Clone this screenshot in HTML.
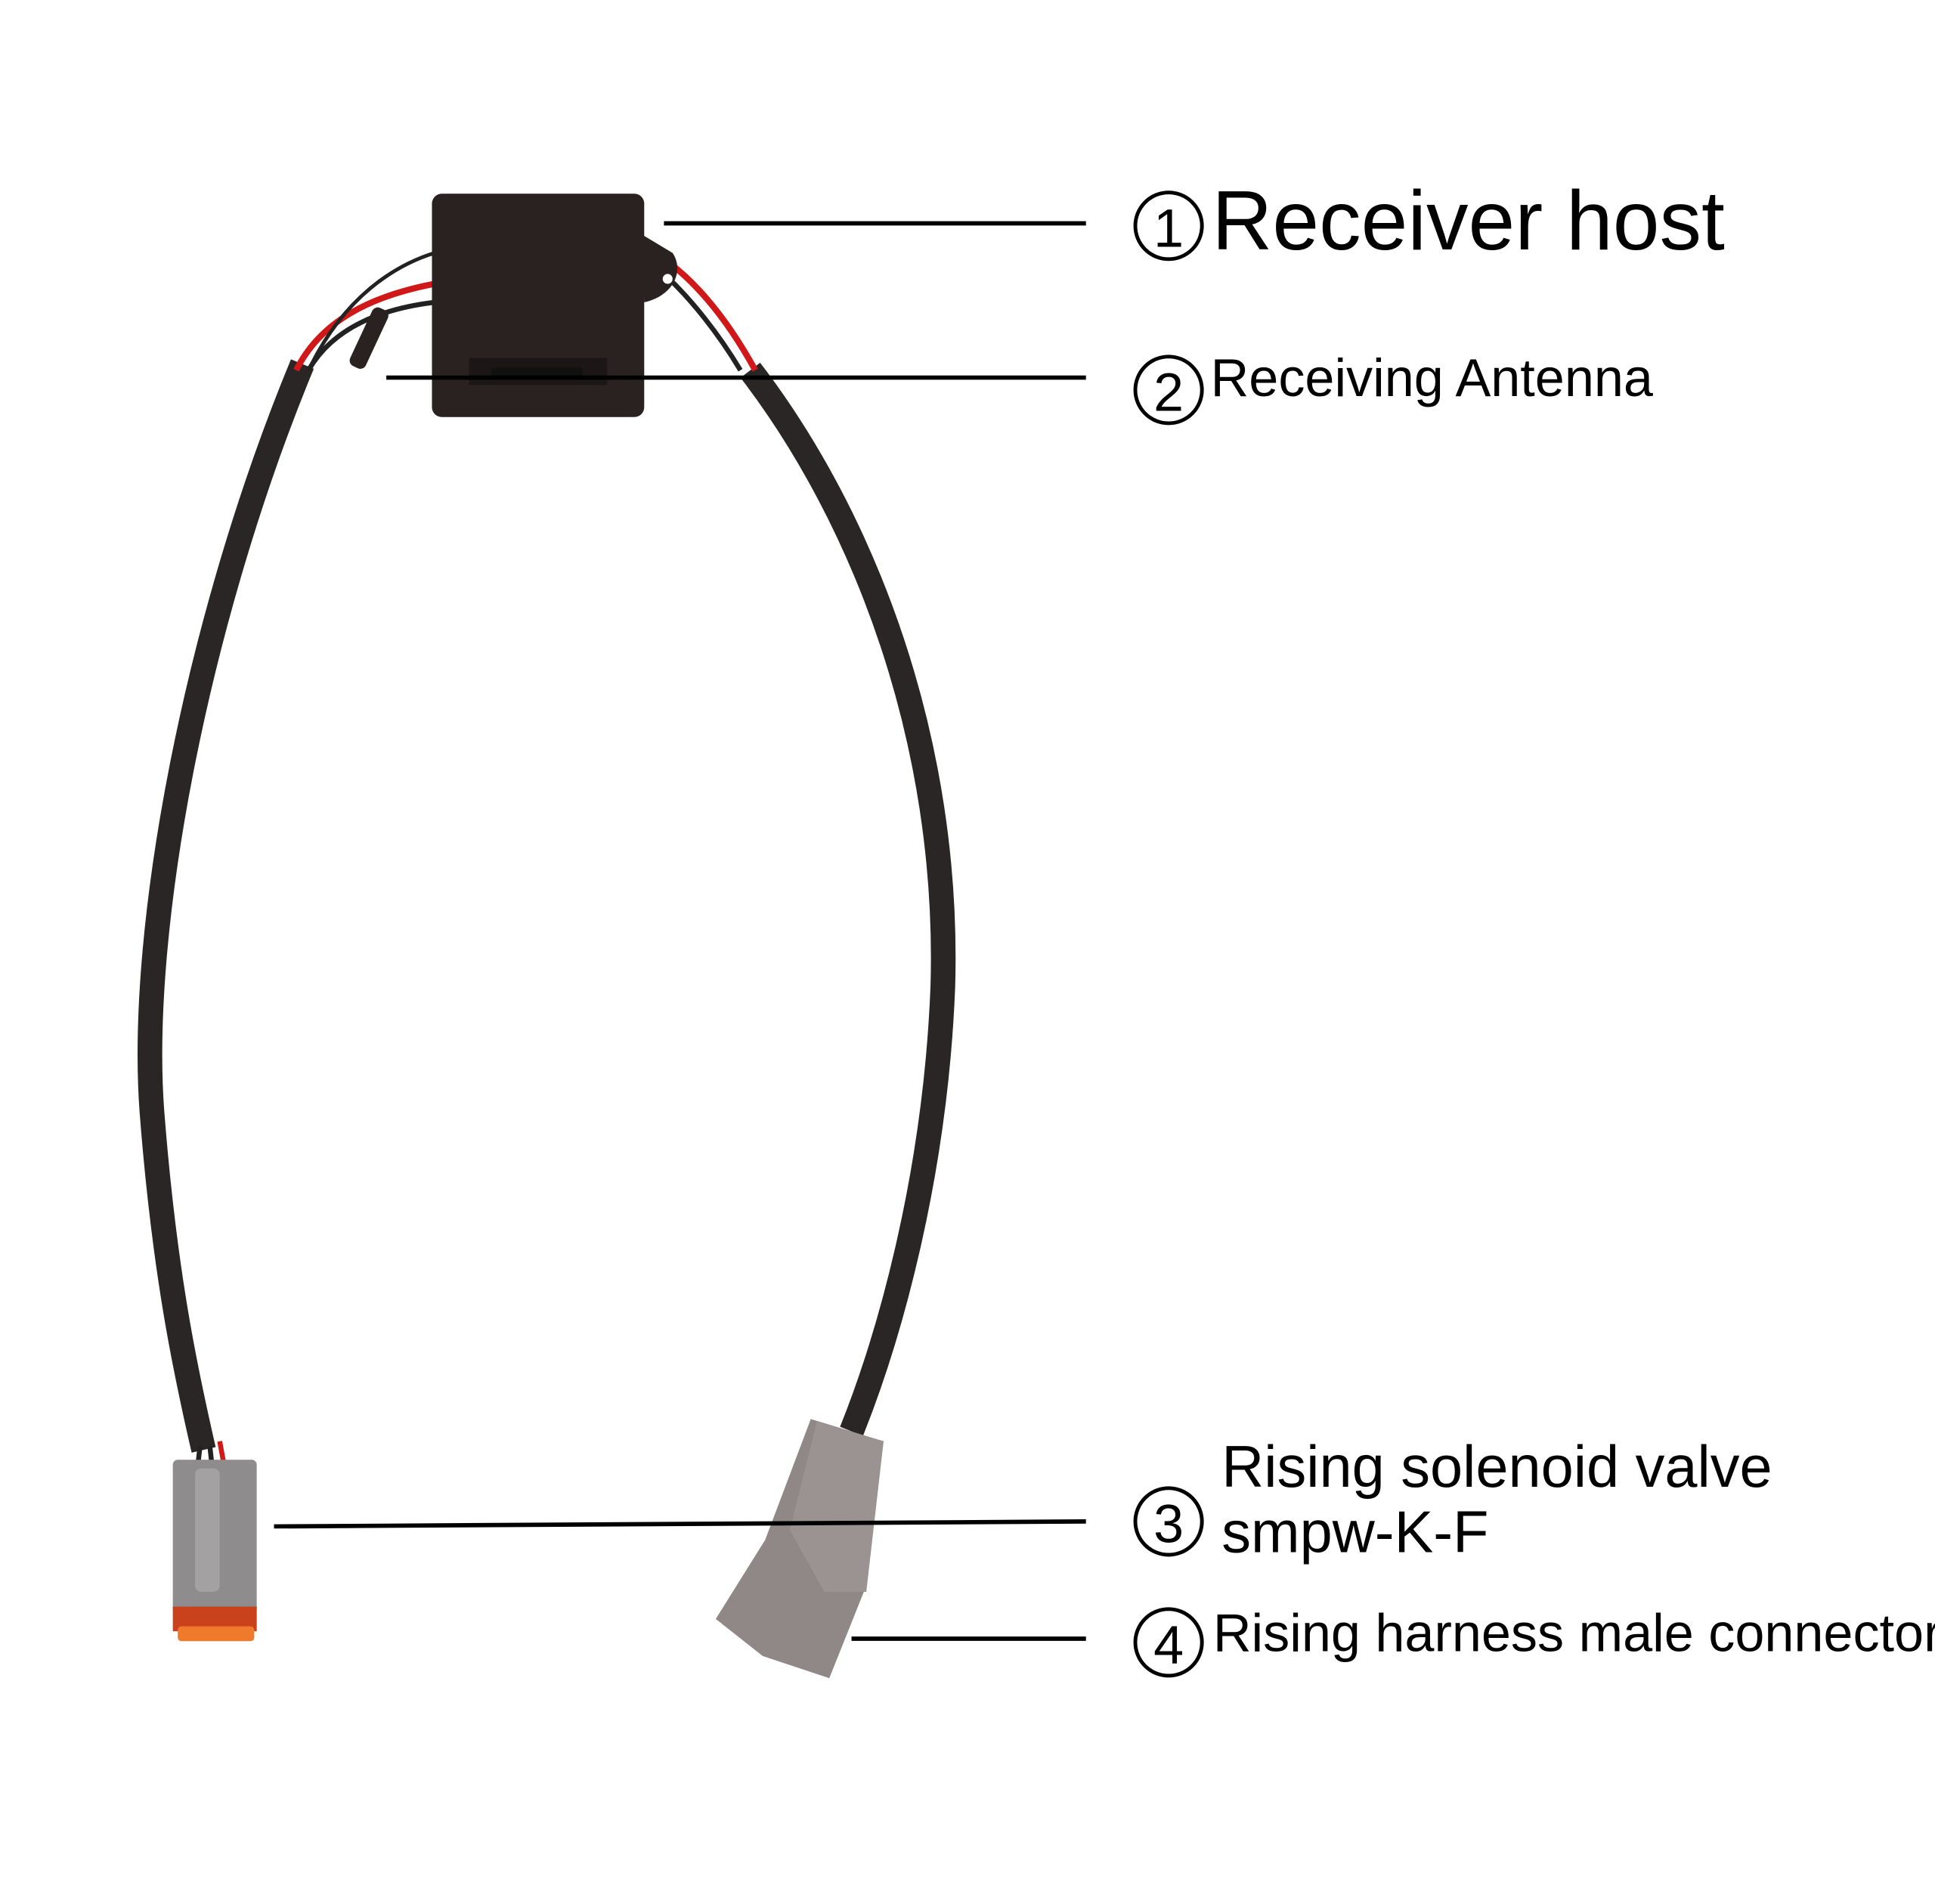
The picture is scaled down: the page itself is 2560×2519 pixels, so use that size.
<!DOCTYPE html>
<html><head><style>
html,body{margin:0;padding:0;background:#fff;}
svg{display:block;}
text{font-family:"Liberation Sans","Noto Sans CJK SC",sans-serif;fill:#000;}
</style></head><body>
<svg width="2560" height="2519" viewBox="0 0 1568 1543" xmlns="http://www.w3.org/2000/svg">
<rect width="1568" height="1543" fill="#fff"/>
<!-- cables -->
<path d="M245,295 C160,500 112,750 123,900 C133,1030 150,1110 165,1175" fill="none" stroke="#2b2626" stroke-width="20"/>
<path d="M608,300 C700,420 770,600 764,800 C758,950 722,1080 690,1160" fill="none" stroke="#2b2626" stroke-width="20"/>
<!-- wires near box -->
<path d="M240,300 C260,260 300,240 352,230" fill="none" stroke="#d01818" stroke-width="5"/>
<path d="M250,300 C270,265 310,250 352,245" fill="none" stroke="#222" stroke-width="4"/>
<path d="M252,296 C280,240 320,215 352,205" fill="none" stroke="#222" stroke-width="3"/>
<path d="M522,200 C560,220 590,260 612,300" fill="none" stroke="#d01818" stroke-width="5"/>
<path d="M530,215 C560,240 585,275 600,300" fill="none" stroke="#222" stroke-width="4"/>
<path d="M162,1172 L160,1190 M170,1172 L172,1190" stroke="#222" stroke-width="4"/>
<path d="M178,1168 L182,1190" stroke="#d01818" stroke-width="4"/>
<!-- antenna coil -->
<rect x="292" y="248" width="14" height="52" rx="5" fill="#2a2220" transform="rotate(25 299 274)"/>
<!-- box -->
<rect x="350" y="157" width="172" height="181" rx="8" fill="#2a2220"/>
<path d="M520,190 L545,205 C555,220 545,240 522,245 Z" fill="#2a2220"/>
<circle cx="541" cy="226" r="4" fill="#fff"/>
<rect x="380" y="290" width="112" height="22" fill="#1c1716"/>
<rect x="398" y="298" width="74" height="8" fill="#111"/>
<!-- left connector -->
<rect x="140" y="1183" width="68" height="125" rx="4" fill="#8e8c8c"/>
<rect x="158" y="1190" width="20" height="100" rx="5" fill="#a3a1a1"/>
<rect x="140" y="1302" width="68" height="20" fill="#c9421c"/>
<rect x="144" y="1318" width="62" height="12" rx="3" fill="#ef7a2c"/>
<!-- right connector -->
<polygon points="657,1150 716,1168 700,1290 672,1360 618,1342 580,1312 620,1248" fill="#8f8887"/>
<polygon points="662,1152 716,1168 702,1290 668,1290 640,1240" fill="#9b9392"/>
<!-- leader lines -->
<line x1="538" y1="181" x2="880" y2="181" stroke="#000" stroke-width="3.5"/>
<line x1="313" y1="306" x2="880" y2="306" stroke="#000" stroke-width="3.5"/>
<line x1="222" y1="1237" x2="880" y2="1233" stroke="#000" stroke-width="3.5"/>
<line x1="690" y1="1328" x2="880" y2="1328" stroke="#000" stroke-width="3.5"/>
<!-- labels -->
<circle cx="947" cy="183" r="27" fill="none" stroke="#000" stroke-width="3"/>
<text x="947" y="200" font-size="44" text-anchor="middle">1</text>
<text x="982" y="202" font-size="68">Receiver host</text>
<circle cx="947" cy="316" r="27" fill="none" stroke="#000" stroke-width="3"/>
<text x="947" y="333" font-size="44" text-anchor="middle">2</text>
<text x="981" y="321" font-size="43">Receiving Antenna</text>
<circle cx="947" cy="1233" r="27" fill="none" stroke="#000" stroke-width="3"/>
<text x="947" y="1250" font-size="44" text-anchor="middle">3</text>
<text x="990" y="1205" font-size="47.5">Rising solenoid valve</text>
<text x="990" y="1258" font-size="47.5">smpw-K-F</text>
<circle cx="947" cy="1331" r="27" fill="none" stroke="#000" stroke-width="3"/>
<text x="947" y="1348" font-size="44" text-anchor="middle">4</text>
<text x="983" y="1338" font-size="43">Rising harness male connector</text>
</svg>
</body></html>
